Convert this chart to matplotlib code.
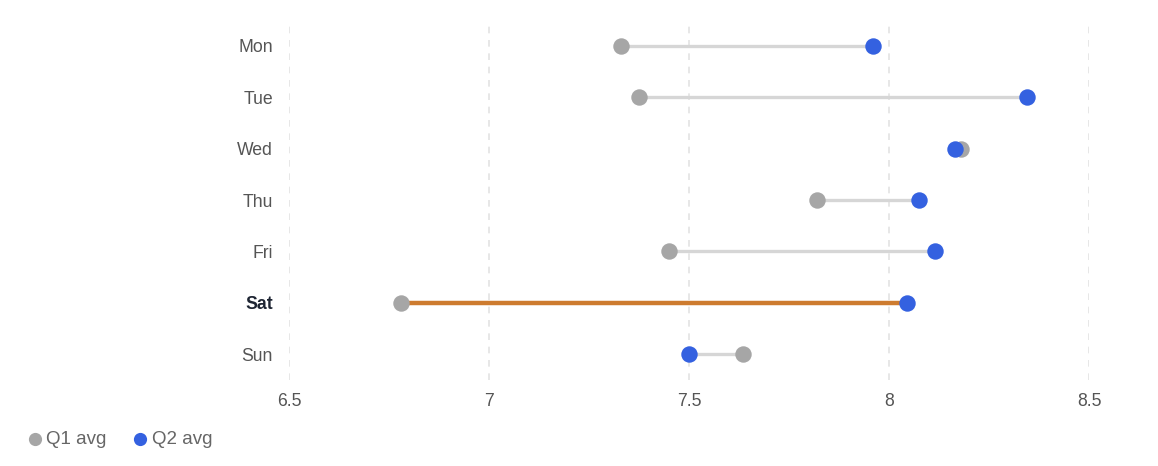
import matplotlib
matplotlib.use('Agg')
import matplotlib.pyplot as plt
from matplotlib.lines import Line2D

plt.rcParams['font.family'] = ['Liberation Sans', 'DejaVu Sans']

days = ['Mon', 'Tue', 'Wed', 'Thu', 'Fri', 'Sat', 'Sun']
q1_avg = [7.33, 7.375, 8.18, 7.82, 7.45, 6.78, 7.635]
q2_avg = [7.96, 8.345, 8.165, 8.075, 8.115, 8.045, 7.50]
highlight = 'Sat'
x_ticks = [6.5, 7, 7.5, 8, 8.5]
series_names = ['Q1 avg', 'Q2 avg']

gray_dot = '#a6a6a6'
blue_dot = '#3461e0'
orange = '#cd7b2f'
W, H = 1158, 466

fig = plt.figure(figsize=(W / 100, H / 100), dpi=100)
ax = fig.add_axes([289 / W, 1 - 380 / H, 800 / W, 360 / H])

for i, d in enumerate(days):
    hl = d == highlight
    ax.plot([q1_avg[i], q2_avg[i]], [i, i],
            color=orange if hl else '#d6d6d6',
            lw=3.2 if hl else 2.4, solid_capstyle='butt', zorder=2)

ax.scatter(q1_avg, range(len(days)), s=140, color=gray_dot, zorder=3, linewidths=0)
ax.scatter(q2_avg, range(len(days)), s=140, color=blue_dot, zorder=4, linewidths=0)

ax.set_xlim(6.5, 8.5)
ax.set_ylim(len(days) - 0.5, -0.5)
ax.set_xticks(x_ticks)
ax.set_xticklabels([f'{t:g}' for t in x_ticks])
ax.set_yticks(range(len(days)))
ax.set_yticklabels(days)
ax.grid(axis='x', color='#e3e3e3', linestyle=(0, (4, 4)), lw=1.2)
ax.set_axisbelow(True)
for s in ax.spines.values():
    s.set_visible(False)
ax.tick_params(length=0, labelsize=12.7, labelcolor='#555555')
ax.tick_params(axis='y', pad=11.5)
ax.tick_params(axis='x', pad=9)
for lbl in ax.get_yticklabels():
    if lbl.get_text() == highlight:
        lbl.set_fontweight('bold')
        lbl.set_color('#1e2533')

# legend, bottom left
for x0, col, name in zip([34.5, 140], [gray_dot, blue_dot], series_names):
    fig.add_artist(Line2D([x0 / W], [1 - 439 / H], marker='o', ls='',
                          color=col, markersize=9.5, markeredgewidth=0,
                          transform=fig.transFigure))
    fig.text((x0 + 11.5) / W, 1 - 439 / H, name, fontsize=13.5,
             color='#666666', va='center', ha='left')

fig.savefig('out.png', dpi=100)
